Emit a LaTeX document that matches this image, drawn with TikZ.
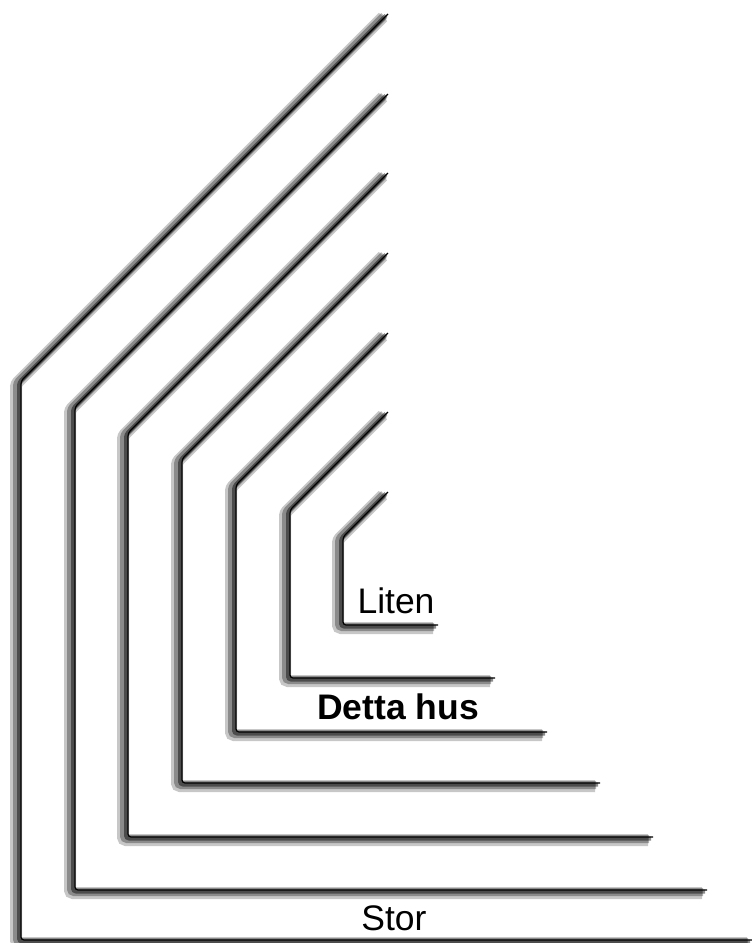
\documentclass[tikz,border=0pt]{standalone}
\usepackage{fontspec}
\setmainfont{Liberation Sans}
\usepackage{tikz}
\usetikzlibrary{calc}
\tikzset{
  house_line/.style = {draw=black, line width=1.2pt, line join=round,
    rounded corners=3pt,
    preaction={draw=black, opacity=.22, line width=12pt,
      transform canvas={shift={(-5pt,-3pt)}}},
    preaction={draw=black, opacity=.3, line width=8pt,
      transform canvas={shift={(-4pt,-2pt)}}},
    preaction={draw=black, opacity=.45, line width=4pt,
      transform canvas={shift={(-2pt,-1.5pt)}}}},
  house_label/.style = {inner sep=0pt, font=\fontsize{35.5}{40}\selectfont},
  this_label/.style = {house_label, font=\fontsize{35.5}{40}\selectfont\bfseries}
}
\begin{document}
\begin{tikzpicture}[x=1pt, y=-1pt]
  \useasboundingbox (0,0) rectangle (752,943);
  % nested houses, outermost first
  \draw [house_line] (388,14) -- (21,381) -- (21,940) -- (752,940);
  \draw [house_line] (388,94) -- (75,407) -- (75,890) -- (707,890);
  \draw [house_line] (388,173) -- (128,433) -- (128,837) -- (653,837);
  \draw [house_line] (388,253) -- (182,459) -- (182,783) -- (600,783);
  \draw [house_line] (388,333) -- (236,485) -- (236,732) -- (547,732);
  \draw [house_line] (388,412) -- (290,510) -- (290,678) -- (495,678);
  \draw [house_line] (388,492) -- (343,537) -- (343,625) -- (438,625);
  % labels
  \node [house_label] (liten) at (396,601) {Liten};
  \node [this_label] (detta) at (398,707) {Detta hus};
  \node [house_label] (stor) at (394,918) {Stor};
\end{tikzpicture}
\end{document}
